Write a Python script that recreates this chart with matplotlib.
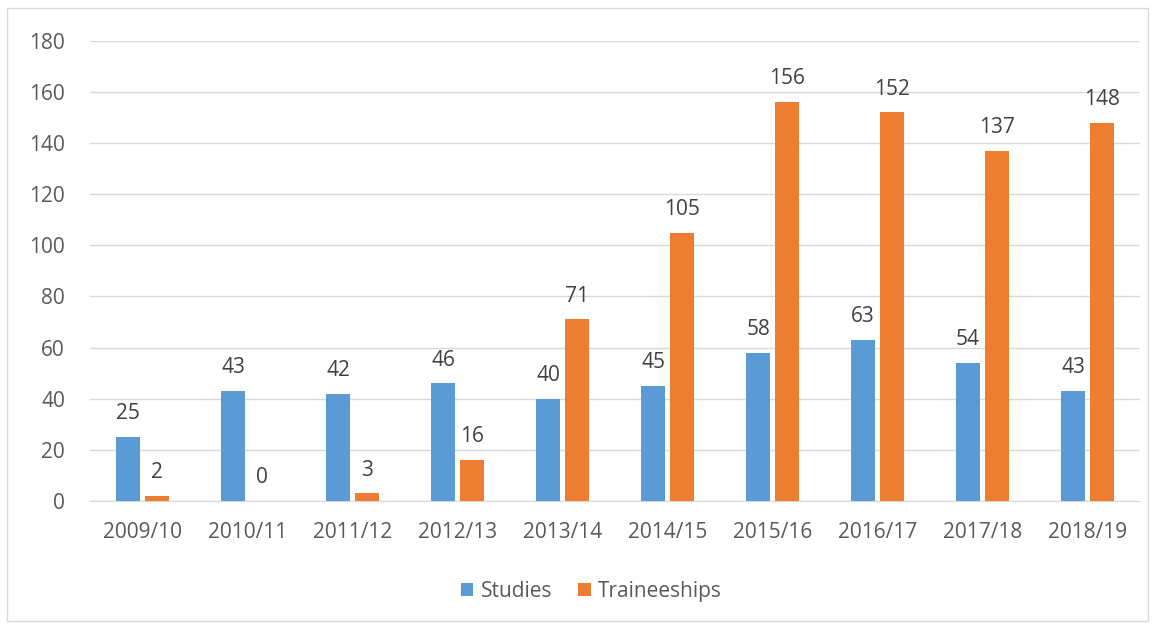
import matplotlib
matplotlib.use("Agg")
import matplotlib.pyplot as plt
from matplotlib.patches import Rectangle
import numpy as np

years = ["2009/10", "2010/11", "2011/12", "2012/13", "2013/14",
         "2014/15", "2015/16", "2016/17", "2017/18", "2018/19"]
studies = [25, 43, 42, 46, 40, 45, 58, 63, 54, 43]
traineeships = [2, 0, 3, 16, 71, 105, 156, 152, 137, 148]

plt.rcParams['font.family'] = ['Open Sans', 'DejaVu Sans']
text_color = '#595959'

fig = plt.figure(figsize=(11.55, 6.27), dpi=100)
ax = fig.add_axes([0.078, 0.201, 0.909, 0.734])

# chart border
fig.patches.append(Rectangle((0.006, 0.01), 0.988, 0.978, transform=fig.transFigure,
                             fill=False, edgecolor='#d9d9d9', linewidth=1))

x = np.arange(len(years))
w = 0.235
gap = 0.02
b1 = ax.bar(x - w / 2 - gap, studies, w, color='#5b9bd5', label='Studies', zorder=3)
b2 = ax.bar(x + w / 2 + gap, traineeships, w, color='#ed7d31', label='Traineeships', zorder=3)

for bars, vals in [(b1, studies), (b2, traineeships)]:
    for rect, v in zip(bars, vals):
        ax.text(rect.get_x() + rect.get_width() / 2, v + 5, str(v),
                ha='center', va='bottom', fontsize=15, color='#404040')

ax.set_ylim(0, 180)
ax.set_yticks(range(0, 181, 20))
ax.set_xlim(-0.5, len(years) - 0.5)
ax.set_xticks(x)
ax.set_xticklabels(years)
ax.tick_params(axis='both', length=0, labelsize=15, colors=text_color)
ax.tick_params(axis='x', pad=15)
ax.tick_params(axis='y', pad=18)
ax.grid(axis='y', color='#d9d9d9', linewidth=1, zorder=0)
for s in ['top', 'right', 'left']:
    ax.spines[s].set_visible(False)
ax.spines['bottom'].set_color('#d9d9d9')

fig.legend(handles=[b1, b2], loc='center', bbox_to_anchor=(0.512, 0.057), ncol=2,
           frameon=False, fontsize=15, handlelength=0.6, handleheight=0.6,
           columnspacing=1.25, handletextpad=0.35, labelcolor=text_color)

fig.savefig("out.png", dpi=100)
